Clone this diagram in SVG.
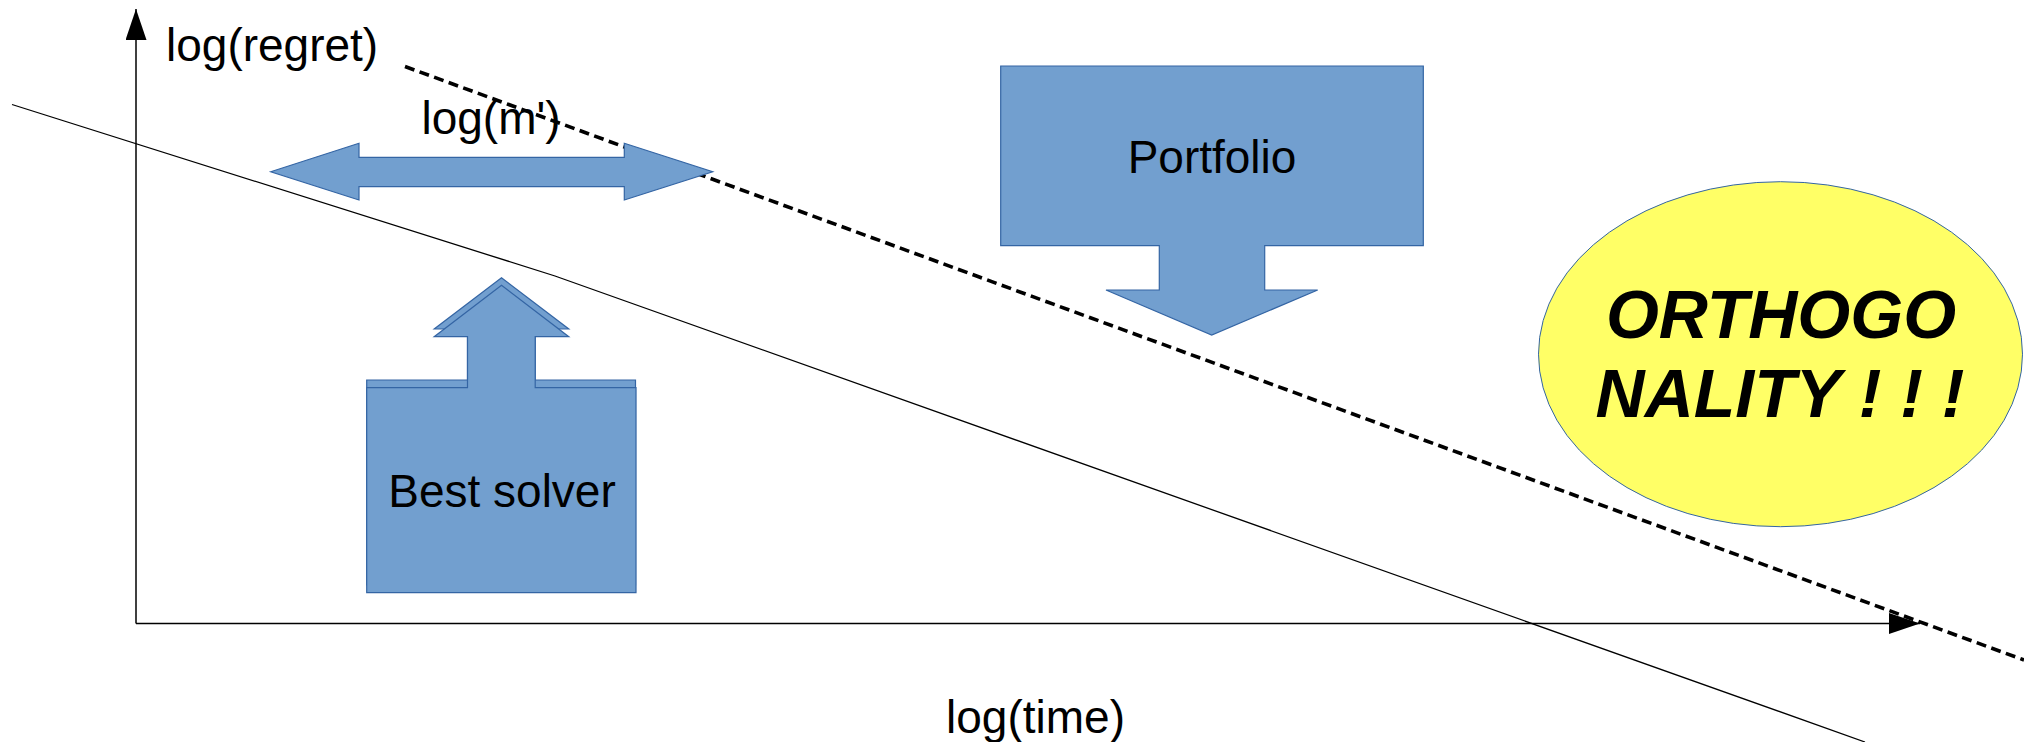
<svg xmlns="http://www.w3.org/2000/svg" width="2024" height="742" viewBox="0 0 2024 742">
  <style>
    .lbl { font-family: "Liberation Sans", Arial, sans-serif; font-size: 46px; fill: #000; }
    .shape { fill: #729fcf; stroke: #3465a4; stroke-width: 1.2; }
    .axis { stroke: #000; stroke-width: 1.5; fill: none; }
    .curve { stroke: #000; stroke-width: 1.3; fill: none; }
    .dash { stroke: #000; stroke-width: 3.6; fill: none; stroke-dasharray: 10 5.5; }
    .big { font-family: "Liberation Sans", Arial, sans-serif; font-size: 68px; font-weight: bold; font-style: italic; fill: #000; }
  </style>
  <defs>
    <marker id="arr" markerUnits="userSpaceOnUse" markerWidth="32" markerHeight="22" refX="31" refY="10.5" orient="auto">
      <path d="M0,0 L31,10.5 L0,21 z" fill="#000"/>
    </marker>
  </defs>
  <rect width="2024" height="742" fill="#fff"/>

  <g id="connectors">
    <line class="axis" x1="136" y1="623.5" x2="136" y2="9" marker-end="url(#arr)"/>
    <line class="axis" x1="136" y1="623.5" x2="1920" y2="623.5" marker-end="url(#arr)"/>
    <polyline class="curve" points="12,104.5 555,276 1865,742"/>
    <line class="dash" x1="405" y1="66.5" x2="2024" y2="660"/>
  </g>

  <g id="axis-labels">
    <text class="lbl" x="166" y="61">log(regret)</text>
    <text class="lbl" x="1035.5" y="733" text-anchor="middle">log(time)</text>
  </g>

  <g id="logm">
    <path class="shape" d="M270.7,171.7 L359,143.3 L359,157.3 L624.3,157.3 L624.3,143.3 L712.7,171.7 L624.3,200 L624.3,186.7 L359,186.7 L359,200 Z"/>
    <text class="lbl" x="491" y="134" text-anchor="middle">log(m')</text>
  </g>

  <g id="best-solver">
    <path class="shape" d="M366.7,380 L467.5,380 L467.5,329 L434.2,329 L501.5,277.7 L568.8,329 L535.2,329 L535.2,380 L635.5,380 L635.5,585 L366.7,585 Z"/>
    <path class="shape" d="M366.7,387.7 L467.5,387.7 L467.5,336.7 L434.2,336.7 L501.5,285.3 L568.8,336.7 L535.2,336.7 L535.2,387.7 L636,387.7 L636,592.7 L366.7,592.7 Z"/>
    <text class="lbl" x="502" y="506.7" text-anchor="middle">Best solver</text>
  </g>

  <g id="portfolio">
    <path class="shape" d="M1000.7,66 L1423.3,66 L1423.3,245.7 L1264.7,245.7 L1264.7,290 L1317.7,290 L1211.7,335 L1106,290 L1159.3,290 L1159.3,245.7 L1000.7,245.7 Z"/>
    <text class="lbl" x="1212" y="173.3" text-anchor="middle">Portfolio</text>
  </g>

  <g id="orthogonality">
    <ellipse cx="1780.5" cy="354.2" rx="242" ry="172.5" fill="#ffff66" stroke="#3465a4" stroke-width="1"/>
    <text class="big" x="1781" y="338.3" text-anchor="middle">ORTHOGO</text>
    <text class="big" x="1780" y="417.3" text-anchor="middle">NALITY ! ! !</text>
  </g>
</svg>
